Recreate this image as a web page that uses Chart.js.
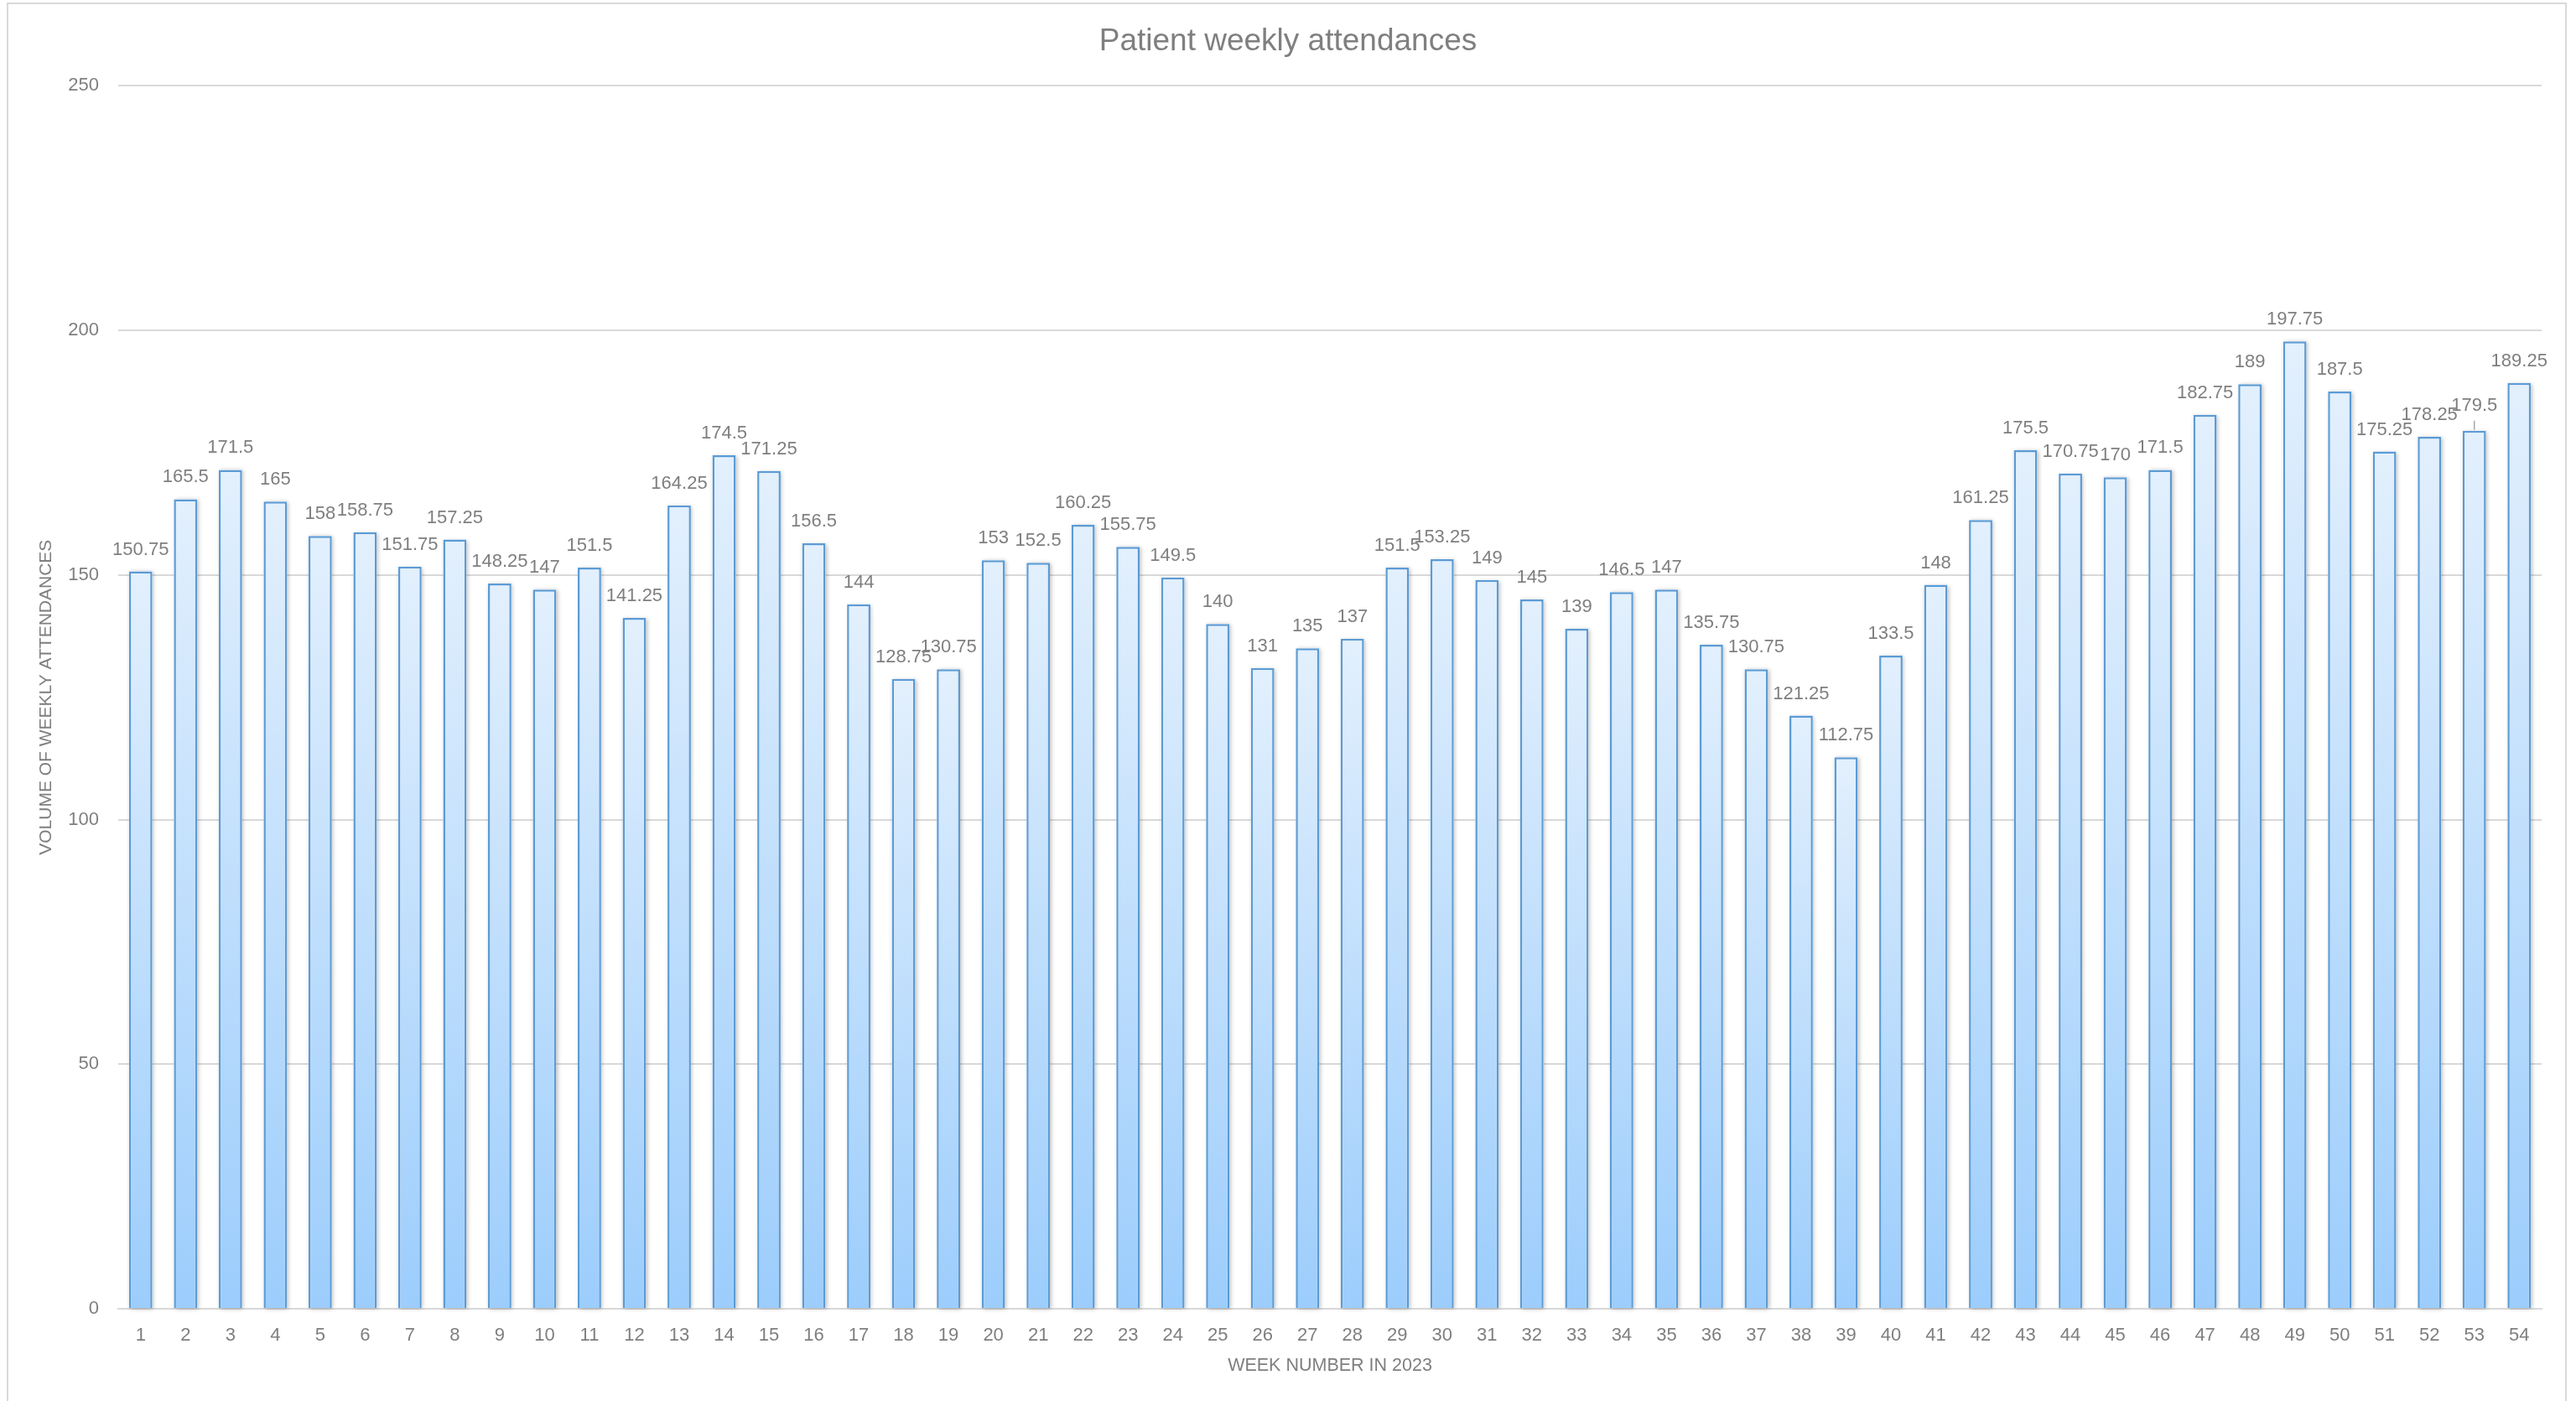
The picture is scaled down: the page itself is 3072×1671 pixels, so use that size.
<!DOCTYPE html>
<html>
<head>
<meta charset="utf-8">
<title>Patient weekly attendances</title>
<script src="https://cdn.jsdelivr.net/npm/chart.js@4.4.1/dist/chart.umd.min.js"></script>
<style>
  html, body { margin: 0; padding: 0; background: #fff; }
  canvas { display: block; }
</style>
</head>
<body>
<canvas id="chart" width="3072" height="1671"></canvas>
<script>
// week numbers (x categories)
const weeks = ['1', '2', '3', '4', '5', '6', '7', '8', '9', '10',
    '11', '12', '13', '14', '15', '16', '17', '18', '19', '20',
    '21', '22', '23', '24', '25', '26', '27', '28', '29', '30',
    '31', '32', '33', '34', '35', '36', '37', '38', '39', '40',
    '41', '42', '43', '44', '45', '46', '47', '48', '49', '50',
    '51', '52', '53', '54'];

// weekly attendance volume
const attendances = [150.75, 165.5, 171.5, 165, 158, 158.75, 151.75, 157.25, 148.25, 147,
    151.5, 141.25, 164.25, 174.5, 171.25, 156.5, 144, 128.75, 130.75, 153,
    152.5, 160.25, 155.75, 149.5, 140, 131, 135, 137, 151.5, 153.25,
    149, 145, 139, 146.5, 147, 135.75, 130.75, 121.25, 112.75, 133.5,
    148, 161.25, 175.5, 170.75, 170, 171.5, 182.75, 189, 197.75, 187.5,
    175.25, 178.25, 179.5, 189.25];

// y axis ticks
const yTicks = [0, 50, 100, 150, 200, 250];

const FONT = "'Liberation Sans', Arial, Helvetica, sans-serif";
const TEXT = '#7f7f7f';
const GRID = '#d9d9d9';

// Gradient per bar: pale at the top, blue at the base
function barFill(c) {
    const chart = c.chart;
    const y = chart.scales && chart.scales.y;
    if (!y || c.raw == null) return '#cfe5fc';
    const top = y.getPixelForValue(c.raw);
    const base = y.getPixelForValue(0);
    if (!isFinite(top) || !isFinite(base) || base - top < 1) return '#cfe5fc';
    const g = chart.ctx.createLinearGradient(0, top, 0, base);
    g.addColorStop(0, '#e3f0fd');
    g.addColorStop(1, '#9ccdfc');
    return g;
}

// frame, bar shadows and value labels
const decor = {
    id: 'decor',
    beforeDraw(chart) {
        const ctx = chart.ctx;
        ctx.save();
        ctx.fillStyle = '#fff';
        ctx.fillRect(0, 0, chart.width, chart.height);
        ctx.strokeStyle = GRID;
        ctx.lineWidth = 2;
        ctx.strokeRect(9, 4, chart.width - 21, chart.height + 20);
        ctx.restore();
    },
    beforeDatasetsDraw(chart) {
        const ctx = chart.ctx;
        const meta = chart.getDatasetMeta(0);
        ctx.save();
        ctx.shadowColor = 'rgba(0,0,0,0.28)';
        ctx.shadowBlur = 5;
        ctx.shadowOffsetX = 1.5;
        ctx.shadowOffsetY = 1;
        ctx.fillStyle = '#fff';
        meta.data.forEach(el => {
            const { x, y, base, width } = el.getProps(['x', 'y', 'base', 'width'], true);
            ctx.fillRect(x - width / 2, y, width, base - y);
        });
        ctx.restore();
    },
    afterDatasetsDraw(chart) {
        const ctx = chart.ctx;
        const meta = chart.getDatasetMeta(0);
        ctx.save();
        ctx.font = '22px ' + FONT;
        ctx.fillStyle = TEXT;
        ctx.textAlign = 'center';
        ctx.textBaseline = 'middle';
        meta.data.forEach((el, i) => {
            const { x, y } = el.getProps(['x', 'y'], true);
            let ly = y - 26;
            // week 53 label was nudged up in the original, with a leader line
            if (i === 52) {
                ly -= 4;
                ctx.strokeStyle = '#a6a6a6';
                ctx.lineWidth = 1.5;
                ctx.beginPath();
                ctx.moveTo(x, y - 1);
                ctx.lineTo(x, y - 12);
                ctx.stroke();
            }
            ctx.fillText(String(attendances[i]), x, ly);
        });
        ctx.restore();
    }
};

new Chart(document.getElementById('chart'), {
    type: 'bar',
    data: {
        labels: weeks,
        datasets: [{
            label: 'Attendances',
            data: attendances,
            backgroundColor: barFill,
            borderColor: '#5b9bd5',
            borderWidth: 2.5,
            categoryPercentage: 1,
            barPercentage: 0.52
        }]
    },
    options: {
        responsive: false,
        devicePixelRatio: 1,
        animation: false,
        layout: { padding: 0 },
        plugins: {
            legend: { display: false },
            tooltip: { enabled: false },
            title: {
                display: true,
                fullSize: true,
                text: 'Patient weekly attendances',
                color: TEXT,
                font: { family: FONT, size: 37, weight: 'normal' },
                padding: { top: 28, bottom: 30 }
            }
        },
        scales: {
            x: {
                grid: { display: false, drawTicks: false },
                border: { display: true, color: GRID, width: 2 },
                ticks: {
                    color: TEXT,
                    font: { family: FONT, size: 22 },
                    padding: 19,
                    maxRotation: 0,
                    autoSkip: false
                },
                title: {
                    display: true,
                    text: 'WEEK NUMBER IN 2023',
                    color: TEXT,
                    font: { family: FONT, size: 21.5 },
                    padding: { top: 0, bottom: 29 }
                },
                afterFit: s => { s.height = 110; }
            },
            y: {
                min: 0,
                max: 250,
                afterBuildTicks: s => { s.ticks = yTicks.map(v => ({ value: v })); },
                grid: { color: GRID, lineWidth: 2, drawTicks: false },
                border: { display: false },
                ticks: {
                    color: TEXT,
                    font: { family: FONT, size: 22 },
                    padding: 23
                },
                title: {
                    display: true,
                    text: 'VOLUME OF WEEKLY ATTENDANCES',
                    color: TEXT,
                    font: { family: FONT, size: 21 },
                    padding: { top: 43, bottom: 0 }
                },
                afterFit: s => { s.width = 141; }
            },
            // empty right-hand margin so the title centres on the whole canvas
            yRight: {
                position: 'right',
                display: true,
                grid: { display: false, drawTicks: false },
                border: { display: false },
                ticks: { display: false },
                afterFit: s => { s.width = 41; }
            }
        }
    },
    plugins: [decor]
});
</script>
</body>
</html>
